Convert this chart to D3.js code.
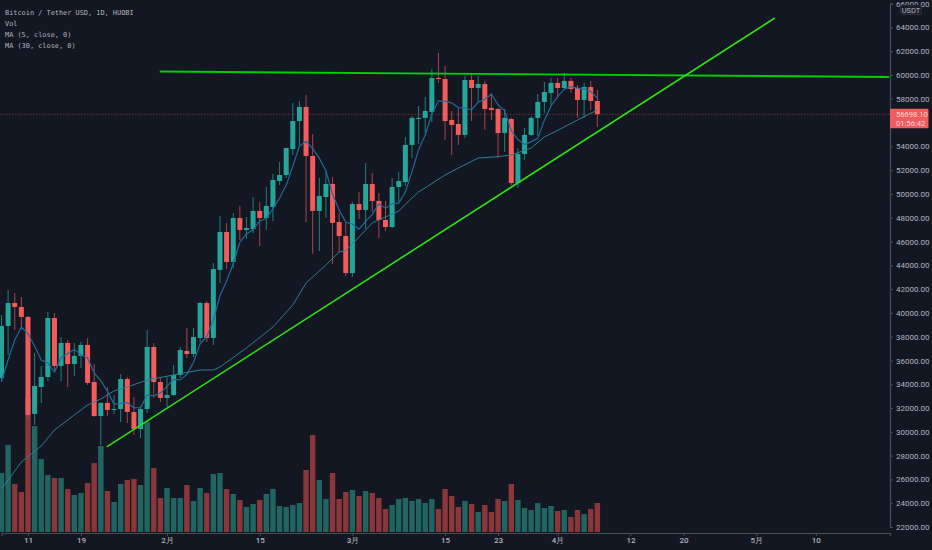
<!DOCTYPE html>
<html><head><meta charset="utf-8">
<script src="https://cdn.jsdelivr.net/npm/d3@7"></script>
<style>html,body{margin:0;padding:0;background:#131722;overflow:hidden}svg{display:block}</style>
</head><body><svg id="c" width="932" height="550"></svg>
<script>
const open=[34530,38900,40830,40500,39660,31500,33770,34610,39570,35540,37470,35700,36380,37300,34190,31330,32430,31840,31920,34440,31670,30240,31920,37130,34190,32850,33100,34780,36800,36540,37890,40830,37890,43610,46800,44280,47980,46970,47050,48570,47980,48900,51090,51590,53780,56130,57310,53190,48570,49740,50840,47640,46460,43350,49150,48650,50840,49410,47810,47220,50580,51000,54120,56300,56390,56890,59750,59660,56220,55880,54960,59580,58910,59240,57230,57140,55120,56300,50920,53360,54960,56390,57730,58490,59330,58910,59500,58910,57900,58990,57810];
const high=[39820,41930,41670,41340,39740,36630,35540,40080,39990,37970,37720,37470,37550,37890,35700,32500,33770,33100,34860,34610,32930,32170,38560,37470,34610,34610,35620,37130,38730,38730,40920,41000,44200,48150,47560,48400,48990,48060,49740,49320,50580,51680,52690,53900,57650,57810,58320,55040,51340,51930,51430,48400,47560,49320,50160,52600,51760,50080,49410,51340,51850,54790,56550,57390,58150,60500,61850,60760,56970,57230,59920,60170,59920,59500,58490,57230,57140,56390,53860,55540,56550,58400,59410,59750,59750,60170,59750,59160,59330,59500,58740];
const low=[34190,36460,38560,38730,31080,30580,32430,34270,35200,34270,33770,34700,35370,33940,31250,28890,31330,31500,30830,30740,29740,29480,31580,32850,32510,32090,33010,34530,36210,36290,37550,37550,37300,42510,43690,43770,46130,46210,46720,45620,46970,47730,50750,51340,53270,54120,47640,44950,45200,47980,44110,45120,43100,43020,47890,47050,48480,46300,46890,47140,49320,50670,53020,54200,55120,56050,59330,54540,53270,54120,54700,56130,57730,55380,56220,53020,53530,50750,50500,52850,54870,54870,56810,57480,58070,58740,58490,56390,56390,57060,55630];
const close=[38900,40830,40500,39660,31420,33860,34610,39570,35540,37470,35700,36380,37300,34110,31330,32430,31840,31920,34440,31670,30240,31920,37130,34190,32850,33100,34780,36880,36540,37970,40830,37890,43690,46800,44280,47980,46970,47140,48570,47980,48990,51170,51590,53860,56130,57310,53190,48570,49830,50840,47560,46460,43350,49150,48650,50840,49410,47810,47220,50580,51090,54120,56390,56390,56970,59750,59660,56130,55800,54960,59580,58910,59240,57140,57060,55120,56390,50920,53360,54960,56390,57730,58570,59330,58910,59500,58820,57900,58990,57810,56698];
const volume=[59,87,48,40,134,106,73,57,54,54,43,37,39,49,69,86,41,30,48,52,53,47,110,64,34,44,34,34,47,31,44,39,58,59,43,38,32,25,28,32,38,43,26,25,27,29,62,97,52,33,59,33,40,42,36,41,39,34,23,27,33,34,31,33,29,33,23,43,36,25,31,28,20,27,20,33,31,48,32,24,22,29,24,26,21,22,15,22,18,23,29];
const ma5=[34270,36040,37720,38810,38230,37220,36040,35790,35030,36210,36580,36930,36480,36210,34960,34310,33400,32340,32390,32460,32020,32040,33080,33030,33270,33840,34410,34360,34830,35850,37400,38020,39390,41440,42680,44130,45940,46630,46990,47725,47930,48770,49660,50720,52350,54010,54420,53810,53005,51945,49995,48650,47610,47470,47040,47690,48280,49170,48785,49170,49220,50165,51880,53710,54955,56720,57830,57780,57660,57260,57225,57075,57700,57965,58385,57495,56990,55325,54570,54150,54400,54670,56200,57390,58185,58805,59025,58890,58820,58605,58050];
const ma30Days=[0,3,6,8,11,13,15,17,19,22,26,30,32,33,37,41,44,46,49,51,52,54,56,60,62,63,67,69,72,75,77,80,82,85,87,90];
const ma30=[25195,27465,28810,30155,31416,32255,32760,33435,33770,34360,34780,35200,35200,35450,37050,38815,40665,42510,44025,45120,45230,46380,47560,48565,49660,50165,51590,52180,53020,53130,53275,53860,54790,55630,56215,57060];
const priceTicks=[22000,24000,26000,28000,30000,32000,34000,36000,38000,40000,42000,44000,46000,48000,50000,52000,54000,58000,60000,62000,64000,66000];
const dayTicks=[4,12,25,39,53,67,75,84,95,103,114,123];
const dayLabels=["11","19","2月","15","3月","15","23","4月","12","20","5月","10"];
const trendDays=[[23.9,134.1],[15.9,116.8]];
const trendPrices=[[60290,59830],[28730,64790]];
const lastPrice=56698.10, countdown="01:56:42";
const legend=["Bitcoin / Tether USD, 1D, HUOBI","Vol","MA (5, close, 0)","MA (30, close, 0)"];

const UP="#26a69a",DOWN="#f45b5b";
const svg=d3.select("#c");
const plotR=890,plotB=533;
const x=d3.scaleLinear().domain([0,134.2]).range([1.5,plotR]);
const y=d3.scaleLinear().domain([22000,66000]).range([527,3.6]);
const v=d3.scaleLinear().domain([0,134]).range([532,398]);
svg.append("rect").attr("width",932).attr("height",550).attr("fill","#131722");
svg.append("defs").append("clipPath").attr("id","p").append("rect").attr("width",plotR).attr("height",plotB);
const g=svg.append("g").attr("clip-path","url(#p)");
const idx=d3.range(open.length);
const isUp=i=>close[i]>=open[i];

g.append("g").selectAll("rect").data(idx).join("rect")
 .attr("x",i=>x(i)-2.7).attr("width",5.4)
 .attr("y",i=>v(volume[i])).attr("height",i=>v(0)-v(volume[i]))
 .attr("fill",i=>isUp(i)?"#206562":"#8a373b");

g.append("line").attr("x1",0).attr("x2",plotR).attr("y1",y(lastPrice)).attr("y2",y(lastPrice))
 .attr("stroke","#8a3b3f").attr("stroke-width",.8).attr("stroke-dasharray","1.5 1.5");

g.append("g").selectAll("line").data(idx).join("line")
 .attr("x1",i=>x(i)).attr("x2",i=>x(i)).attr("y1",i=>y(high[i])).attr("y2",i=>y(low[i]))
 .attr("stroke",i=>isUp(i)?"#1f8078":"#a8444a").attr("stroke-width",1);
g.append("g").selectAll("rect").data(idx).join("rect")
 .attr("x",i=>x(i)-2.5).attr("width",5)
 .attr("y",i=>y(Math.max(open[i],close[i])))
 .attr("height",i=>Math.max(1,Math.abs(y(open[i])-y(close[i]))))
 .attr("fill",i=>isUp(i)?UP:DOWN);

const ln=d3.line();
g.append("path").attr("d",ln(idx.map(i=>[x(i),y(ma5[i])]))).attr("fill","none").attr("stroke","#22699e").attr("stroke-width",1.2);
g.append("path").attr("d",ln(ma30Days.map((d,i)=>[x(d),y(ma30[i])]))).attr("fill","none").attr("stroke","#2b7f92").attr("stroke-width",1);

svg.append("g").selectAll("line").data(trendDays).join("line")
 .attr("x1",(d,i)=>x(d[0])).attr("x2",(d,i)=>x(d[1]))
 .attr("y1",(d,i)=>y(trendPrices[i][0])).attr("y2",(d,i)=>y(trendPrices[i][1]))
 .attr("stroke",(d,i)=>i?"#2fe012":"#00cf00").attr("stroke-width",(d,i)=>i?1.6:1.9);

const axR=svg.append("g").attr("transform",`translate(${plotR},0)`)
 .call(d3.axisRight(y).tickValues(priceTicks).tickFormat(d=>d3.format(".2f")(d)).tickSize(3).tickPadding(3));
const axB=svg.append("g").attr("transform",`translate(0,${plotB})`)
 .call(d3.axisBottom(x).tickValues(dayTicks).tickFormat((d,i)=>dayLabels[i]).tickSize(3).tickPadding(1));
[axR,axB].forEach(a=>{a.selectAll("path,line").attr("stroke","#4a4e59");a.selectAll("path").attr("stroke-width",1.2);
 a.selectAll("text").attr("fill","#b2b5be").attr("font-family","Roboto,sans-serif").attr("font-size",8);});
axB.selectAll("text").attr("font-weight",500);

const boxY=y(lastPrice)-5.5;
svg.append("rect").attr("x",plotR).attr("y",boxY).attr("width",38.5).attr("height",19.5).attr("fill","#f15b5e").attr("rx",1);
const labelStyle=s=>s.attr("font-family","Roboto,sans-serif").attr("font-size",7.6).attr("fill","#ffd9d9");
svg.append("text").attr("x",plotR+6).attr("y",boxY+7.8).text(d3.format(".2f")(lastPrice)).call(labelStyle);
svg.append("text").attr("x",plotR+6).attr("y",boxY+17).text(countdown).call(labelStyle);

svg.append("rect").attr("x",900.5).attr("y",5).attr("width",21).attr("height",9.5).attr("rx",2).attr("fill","#1a1e29").attr("stroke","#363a45").attr("stroke-width",.8);
svg.append("text").attr("x",911).attr("y",12.6).attr("text-anchor","middle").attr("font-family","Roboto,sans-serif").attr("font-size",7.5).attr("fill","#b2b5be").text("USDT");

svg.append("g").selectAll("text").data(legend).join("text")
 .attr("x",5).attr("y",(d,i)=>14.5+i*11.1).text(d=>d)
 .attr("font-family","'DejaVu Sans Mono',monospace").attr("font-size",6.9).attr("fill","#b2b5be");
</script></body></html>
